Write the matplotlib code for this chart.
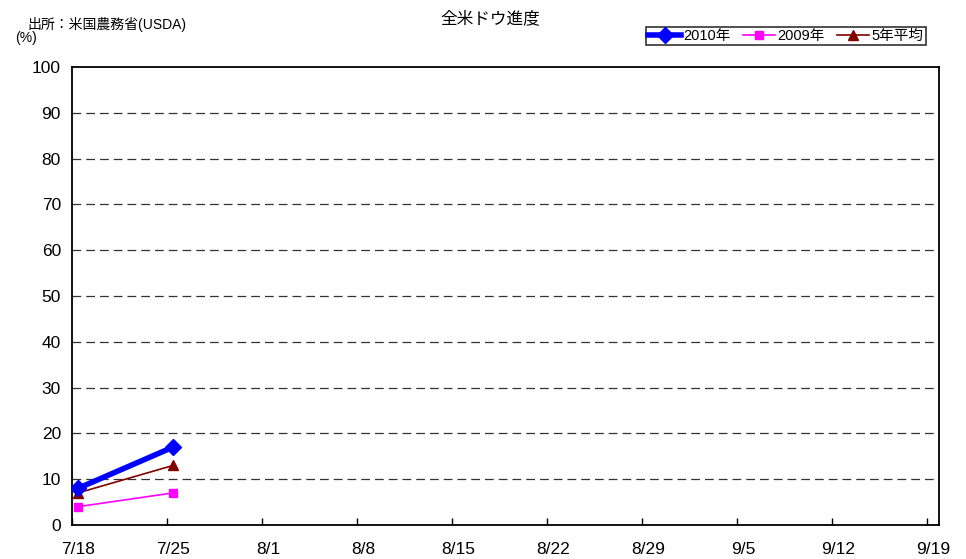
import matplotlib
matplotlib.use("Agg")
import matplotlib.pyplot as plt

plt.rcParams['font.family'] = ['Liberation Sans', 'Noto Sans CJK JP', 'DejaVu Sans']

weeks = ["7/18", "7/25", "8/1", "8/8", "8/15", "8/22", "8/29", "9/5", "9/12", "9/19"]
y2010 = [8, 17]
y2009 = [4, 7]
avg5 = [7, 13]
yticks = [0, 10, 20, 30, 40, 50, 60, 70, 80, 90, 100]

fig = plt.figure(figsize=(9.66, 5.59), dpi=100)
ax = fig.add_axes([72/966, 34/559, (939-72)/966, (525-67)/559])

x = list(range(len(weeks)))
ax.plot(x[:len(y2010)], y2010, color='#0000FF', lw=4, marker='D', ms=8, zorder=5, label='2010年')
ax.plot(x[:len(y2009)], y2009, color='#FF00FF', lw=1.2, marker='s', ms=6, zorder=4, label='2009年')
ax.plot(x[:len(avg5)], avg5, color='#800000', lw=1.2, marker='^', ms=7, zorder=4, label='5年平均')

ax.set_xlim(-0.063, 9.063)
ax.set_ylim(0, 100)
ax.set_yticks(yticks)
ax.set_yticklabels([str(v) for v in yticks], fontsize=12.5)
ax.tick_params(axis='y', length=0, pad=8)
ax.set_xticks(x)
ax.set_xticklabels(weeks, fontsize=12.5)
ax.tick_params(axis='x', which='major', length=0, pad=12)
ax.set_xticks([i - 0.063 for i in x], minor=True)
ax.tick_params(axis='x', which='minor', direction='in', length=5, width=1)
for v in yticks[1:-1]:
    ax.axhline(v, color='#333333', lw=0.9, ls=(0, (7, 4)), zorder=1)
for s in ax.spines.values():
    s.set_linewidth(1.3)

fig.text(490/966, 1 - 18/559, '全米ドウ進度', ha='center', va='center', fontsize=12)
fig.text(27/966, 1 - 25/559, '出所：米国農務省(USDA)', ha='left', va='center', fontsize=10)
fig.text(15/966, 1 - 38/559, '(%)', ha='left', va='center', fontsize=10)

leg = fig.legend(loc='center', bbox_to_anchor=(786/966, 1 - 36/559), ncol=3, fontsize=10.5,
                 frameon=True, fancybox=False, edgecolor='black', handlelength=2.2,
                 handletextpad=0.2, columnspacing=0.8, borderpad=0.15, borderaxespad=0)
leg.get_frame().set_linewidth(1.2)

fig.savefig('out.png', dpi=100)
